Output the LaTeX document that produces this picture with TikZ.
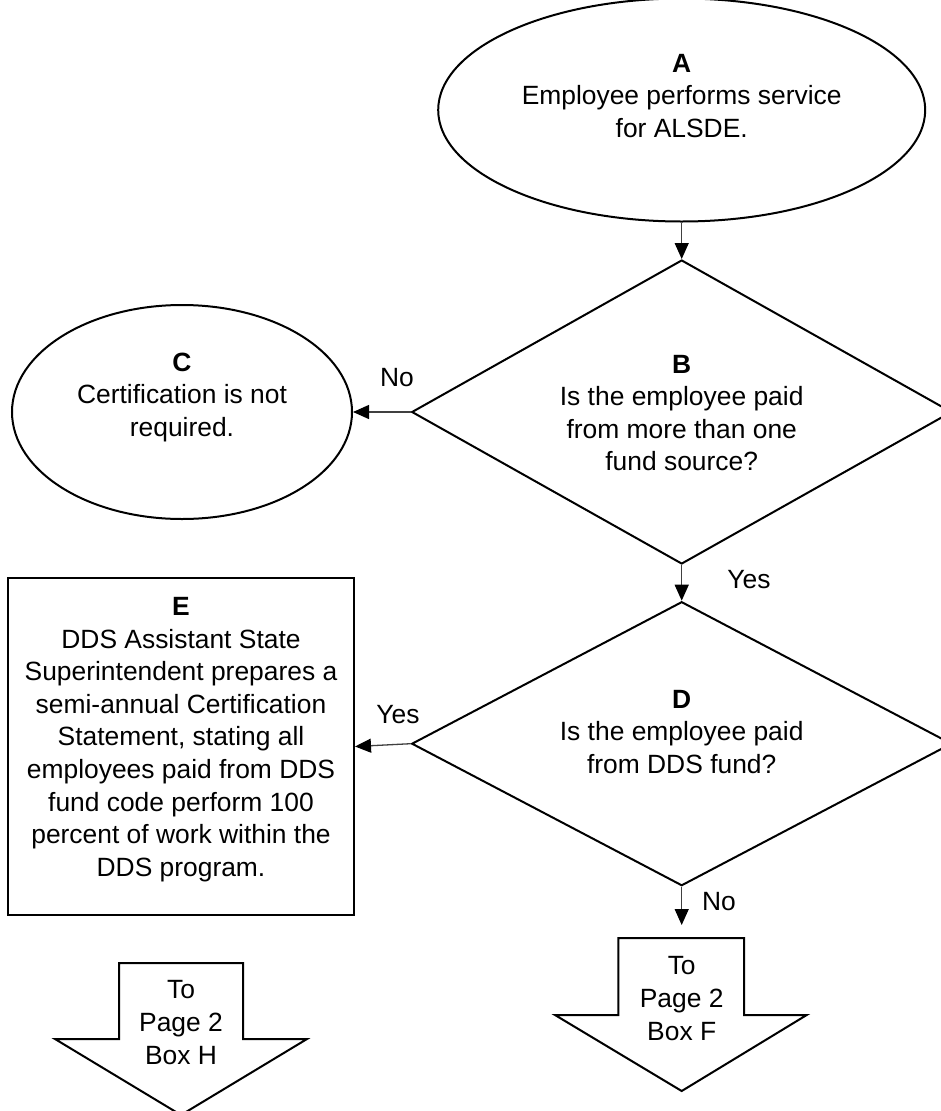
\documentclass[tikz,border=0pt]{standalone}
\usepackage{fontspec}
\setmainfont{Liberation Sans}
\usetikzlibrary{shapes.geometric,arrows.meta}
\begin{document}
\begin{tikzpicture}[x=1pt,y=-1pt,
  shapeline/.style={draw=black,line width=2pt},
  txt/.style={font=\fontsize{26.4pt}{32.6pt}\selectfont,align=center,inner sep=0pt},
  conn/.style={draw=black!75,line width=1.3pt,-{Triangle[length=16pt,width=14pt,black]}},
  oval/.style={ellipse,shapeline,inner sep=0pt},
  decision/.style={diamond,shapeline,inner sep=0pt,aspect=1.8},
  blockarrow/.style={shapeline,line join=miter}]
\useasboundingbox (0,0) rectangle (941,1111);
\fill[white] (0,0) rectangle (941,1111);

% shapes
\node[oval,minimum width=487pt,minimum height=223pt] (A) at (681.7,110) {};
\node[txt] (At) at (681.7,96) {\textbf{A}\\Employee performs service\\for ALSDE.};

\node[decision,minimum width=540pt,minimum height=304pt] (B) at (681.7,412) {};
\node[txt] (Bt) at (681.7,413) {\textbf{B}\\Is the employee paid\\from more than one\\fund source?};

\node[oval,minimum width=340pt,minimum height=214pt] (C) at (182,412) {};
\node[txt] (Ct) at (182,397.5) {\textbf{C}\\Certification is not\\required.};

\node[decision,minimum width=540pt,minimum height=284pt] (D) at (681.7,743.7) {};
\node[txt] (Dt) at (681.7,732) {\textbf{D}\\Is the employee paid\\from DDS fund?};

\node[rectangle,shapeline,minimum width=346pt,minimum height=337pt,inner sep=0pt] (E) at (181,746.5) {};
\node[txt] (Et) at (181,739.5) {\textbf{E}\\DDS Assistant State\\Superintendent prepares a\\semi-annual Certification\\Statement, stating all\\employees paid from DDS\\fund code perform 100\\percent of work within the\\DDS program.};

% block arrows
\draw[blockarrow] (618.3,938) -- (744,938) -- (744,1015) -- (806.7,1015) -- (681.7,1091) -- (555,1015) -- (618.3,1015) -- cycle;
\coordinate (Fin) at (681.7,925);
\node[txt] (F) at (681.7,998.5) {To\\Page 2\\Box F};

\draw[blockarrow] (119,963) -- (243,963) -- (243,1039) -- (307,1039) -- (181,1115) -- (55,1039) -- (119,1039) -- cycle;
\node[txt] (H) at (181,1022.5) {To\\Page 2\\Box H};

% connectors
\draw[conn] (A.south) -- (B.north);
\draw[conn] (B.west) -- (C.east);
\draw[conn] (B.south) -- (D.north);
\draw[conn] (D.west) -- (E.east);
\draw[conn] (D.south) -- (Fin);

% labels
\node[txt] (lNo1) at (397,378) {No};
\node[txt] (lYes1) at (749,580) {Yes};
\node[txt] (lYes2) at (398,715) {Yes};
\node[txt] (lNo2) at (719,902) {No};
\end{tikzpicture}
\end{document}
